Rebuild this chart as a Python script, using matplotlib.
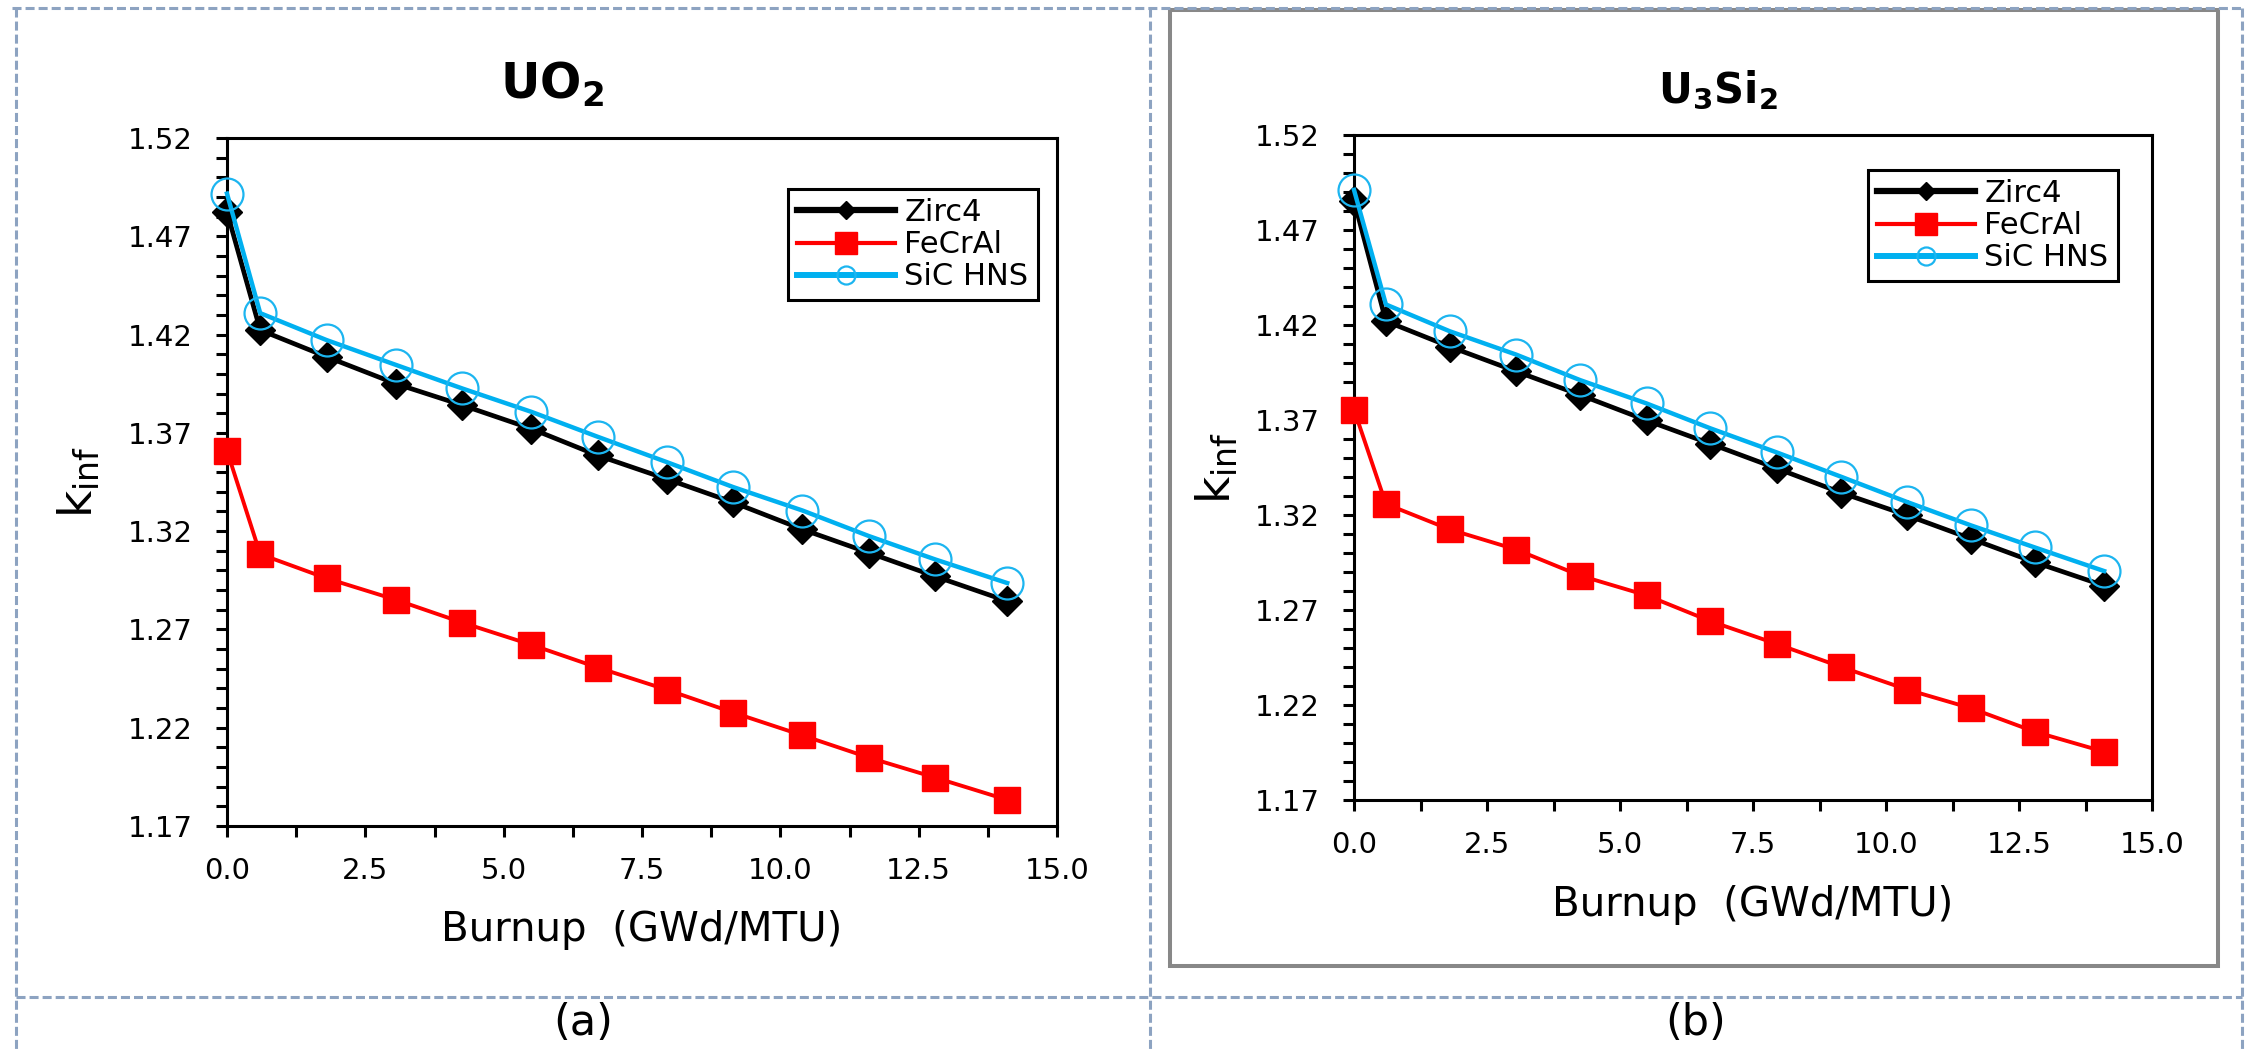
import matplotlib
matplotlib.use("Agg")
import matplotlib.pyplot as plt
from matplotlib.lines import Line2D
from matplotlib.patches import Rectangle
from matplotlib.ticker import MultipleLocator, FormatStrFormatter, FixedLocator

# ---------------- data ----------------
burnup = [0.0, 0.6, 1.8, 3.05, 4.25, 5.5, 6.7, 7.95, 9.15, 10.4, 11.6, 12.8, 14.1]

zirc4_uo2 = [1.4824, 1.4223, 1.4087, 1.3950, 1.3841, 1.3721, 1.3585, 1.3465, 1.3346, 1.3209, 1.3090, 1.2970, 1.2844]
fecral_uo2 = [1.3609, 1.3083, 1.2960, 1.2851, 1.2735, 1.2622, 1.2506, 1.2393, 1.2277, 1.2161, 1.2048, 1.1946, 1.1833]
sic_uo2 = [1.4917, 1.4309, 1.4172, 1.4046, 1.3926, 1.3807, 1.3680, 1.3551, 1.3424, 1.3305, 1.3175, 1.3056, 1.2936]

zirc4_u3si2 = [1.4855, 1.4220, 1.4086, 1.3956, 1.3832, 1.3698, 1.3575, 1.3445, 1.3318, 1.3198, 1.3075, 1.2951, 1.2828]
fecral_u3si2 = [1.3755, 1.3258, 1.3124, 1.3018, 1.2881, 1.2777, 1.2641, 1.2521, 1.2401, 1.2281, 1.2183, 1.2059, 1.1954]
sic_u3si2 = [1.4911, 1.4308, 1.4167, 1.4044, 1.3910, 1.3787, 1.3656, 1.3529, 1.3402, 1.3268, 1.3145, 1.3029, 1.2905]

series_labels = ["Zirc4", "FeCrAl", "SiC HNS"]
x_ticks = [0.0, 2.5, 5.0, 7.5, 10.0, 12.5, 15.0]
y_ticks = [1.17, 1.22, 1.27, 1.32, 1.37, 1.42, 1.47, 1.52]
panel_titles = [r"$\mathbf{UO_2}$", r"$\mathbf{U_3Si_2}$"]
panel_tags = ["(a)", "(b)"]
x_label = "Burnup  (GWd/MTU)"
y_label = r"$\mathrm{k_{inf}}$"

# ---------------- figure ----------------
plt.rcParams["font.family"] = ["DejaVu Sans"]
plt.rcParams["mathtext.fontset"] = "dejavusans"
plt.rcParams["lines.scale_dashes"] = False

W, H = 2247, 1051
fig = plt.figure(figsize=(W / 100, H / 100), dpi=100)
fig.patch.set_facecolor("white")


def fx(x):
    return x / W


def fy(y):
    return 1 - y / H


def draw_panel(box, zirc, fecral, sic, title, title_xy, title_size, tag, tag_xy,
               leg_center, leg_top, xlab_off, ylab_off):
    x0, y0, x1, y1 = box
    ax = fig.add_axes([fx(x0), fy(y1), (x1 - x0) / W, (y1 - y0) / H])
    ax.plot(burnup, zirc, color="black", lw=3.4, marker="D", ms=15,
            mfc="black", mec="black", clip_on=False, zorder=3, label=series_labels[0])
    ax.plot(burnup, fecral, color="#FF0000", lw=2.8, marker="s", ms=19,
            mfc="#FF0000", mec="#FF0000", clip_on=False, zorder=3, label=series_labels[1])
    ax.plot(burnup, sic, color="#00B0F0", lw=3.2, marker="o", ms=23,
            mfc="none", mec="#1CB5F0", mew=1.6, clip_on=False, zorder=4, label=series_labels[2])
    ax.set_xlim(0, 15)
    ax.set_ylim(1.17, 1.52)
    ax.xaxis.set_major_locator(FixedLocator(x_ticks))
    ax.xaxis.set_minor_locator(MultipleLocator(1.25))
    ax.yaxis.set_major_locator(FixedLocator(y_ticks))
    ax.yaxis.set_minor_locator(MultipleLocator(0.01))
    ax.xaxis.set_major_formatter(FormatStrFormatter("%.1f"))
    ax.yaxis.set_major_formatter(FormatStrFormatter("%.2f"))
    for s in ax.spines.values():
        s.set_linewidth(2.2)
    ax.tick_params(which="both", direction="out", length=8, width=2.2,
                   top=False, right=False)
    ax.tick_params(axis="x", which="major", labelsize=21, pad=14)
    ax.tick_params(axis="y", which="major", labelsize=21, pad=16.5)

    ax.set_xlabel(x_label, fontsize=29)
    ax.xaxis.label.set_verticalalignment("center")
    ax.xaxis.set_label_coords(0.5, -xlab_off / (y1 - y0))
    ax.set_ylabel(y_label, fontsize=34)
    ax.yaxis.label.set_verticalalignment("center")
    ax.yaxis.set_label_coords(-ylab_off / (x1 - x0), 0.5)

    leg = ax.legend(loc="upper center", bbox_to_anchor=(fx(leg_center), fy(leg_top)),
                    bbox_transform=fig.transFigure, fontsize=22, frameon=True,
                    fancybox=False, framealpha=1, edgecolor="black",
                    borderpad=0.3, labelspacing=0.1, handlelength=3.2,
                    handletextpad=0.3, borderaxespad=0)
    leg.get_frame().set_linewidth(2.2)
    hs = leg.legend_handles
    hs[0].set_markersize(9)
    hs[1].set_markersize(16)
    hs[2].set_markersize(13)
    hs[0].set_linewidth(4.5)
    hs[1].set_linewidth(3.0)
    hs[2].set_linewidth(4.3)

    fig.text(fx(title_xy[0]), fy(title_xy[1]), title, ha="center", va="baseline",
             fontsize=title_size)
    fig.text(fx(tag_xy[0]), fy(tag_xy[1]), tag, ha="center", va="center", fontsize=31)
    return ax


draw_panel((227, 138, 1057, 826), zirc4_uo2, fecral_uo2, sic_uo2,
           panel_titles[0], (552, 99), 35, panel_tags[0], (583, 1023),
           913, 189, 104, 148)
draw_panel((1354, 135, 2152, 800), zirc4_u3si2, fecral_u3si2, sic_u3si2,
           panel_titles[1], (1718, 103), 30, panel_tags[1], (1696, 1023),
           1993, 170, 105, 137)

# ---------------- frames ----------------
fig.add_artist(Rectangle((fx(1170), fy(966)), (2218 - 1170) / W, (966 - 10) / H,
                         transform=fig.transFigure, fill=False, ec="#888888", lw=2.9))
dash_kw = dict(transform=fig.transFigure, color="#8DA3C1", lw=2.2, dashes=(6.5, 2.9))
fig.add_artist(Line2D([fx(12), fx(2242)], [fy(8), fy(8)], **dash_kw))
fig.add_artist(Line2D([fx(16), fx(2242)], [fy(997), fy(997)], **dash_kw))
fig.add_artist(Line2D([fx(16), fx(16)], [fy(8), fy(1051)], **dash_kw))
fig.add_artist(Line2D([fx(1150), fx(1150)], [fy(8), fy(1051)], **dash_kw))
fig.add_artist(Line2D([fx(2242), fx(2242)], [fy(8), fy(1051)], **dash_kw))

fig.savefig("out.png", dpi=100, facecolor="white")
